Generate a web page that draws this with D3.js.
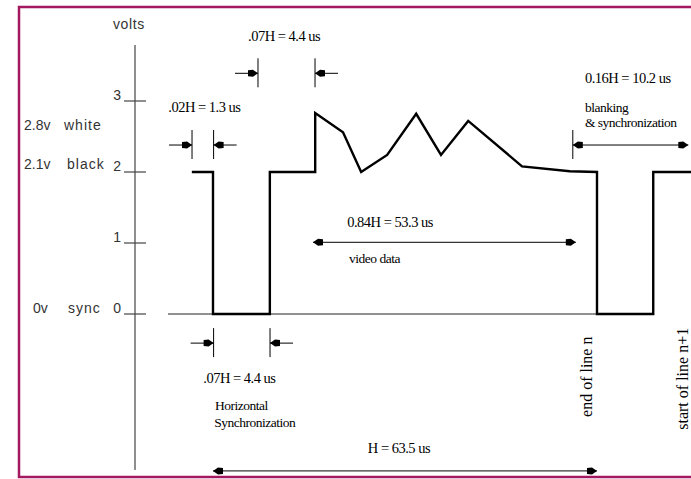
<!DOCTYPE html>
<html>
<head>
<meta charset="utf-8">
<script src="https://cdn.jsdelivr.net/npm/d3@7"></script>
<style>
  body { margin: 0; background: #fff; }
  .sans { font-family: "Liberation Sans", Arial, sans-serif; font-size: 14px; fill: #333; }
  .serif { font-family: "Liberation Serif", "Times New Roman", serif; fill: #000; }
</style>
</head>
<body>
<script>
// waveform of one video line: time (diagram units, not to scale) and volts
var waveT = [-3.5, 0, 0, 9.4, 9.4, 16.9, 16.9, 21.5, 24.5, 28.8, 33.6, 37.7, 42.2, 51.1, 59.0, 63.5, 63.5, 72.8, 72.8, 80];
var waveV = [2.0, 2.0, 0, 0, 2.0, 2.0, 2.83, 2.56, 2.0, 2.24, 2.82, 2.24, 2.72, 2.08, 2.01, 2.0, 0, 0, 2.0, 2.0];

// volt axis
var voltTicks = [0, 1, 2, 3];
var levelNums = ['2.8v', '2.1v', '0v'];
var levelNames = ['white', 'black', 'sync'];
var levelVolts = [2.8, 2.1, 0];

// dimension marks: [t0, t1, level]
var dimOutside = [[-3.47, 0.1, 2.38], [7.44, 16.87, 3.39], [0.1, 9.43, -0.41]];
var dimSpan = [[16.54, 60.0, 1.01], [0, 63.5, -2.21]];
var blankDim = [59.5, 78.6, 2.38];

// labels: text, t, volts
var noteText = ['.07H = 4.4 us', '.02H = 1.3 us', '0.84H = 53.3 us', 'video data', '0.16H = 10.2 us',
  'blanking', '& synchronization', '.07H = 4.4 us', 'Horizontal', 'Synchronization', 'H = 63.5 us'];
var noteT = [5.8, -7.4, 22.2, 22.5, 61.5, 61.5, 61.5, -1.6, 0.35, 0.2, 25.6];
var noteV = [3.85, 2.85, 1.23, 0.72, 3.25, 2.85, 2.63, -0.97, -1.35, -1.59, -1.96];
var noteSize = [14.5, 14.5, 14.5, 13.5, 14.5, 13.5, 13.5, 14.5, 13.5, 13.5, 14.5];

var lineNotes = ['end of line n', 'start of line n+1'];
var lineNoteT = [62.7, 78.6];
var lineNoteV = [-1.45, -1.63];

var width = 691, height = 479;

var svg = d3.select('body').append('svg')
  .attr('width', width)
  .attr('height', height);

var x = d3.scaleLinear().domain([0, 63.5]).range([213, 597]);
var y = d3.scaleLinear().domain([0, 3]).range([314, 101]);

// frame
svg.append('rect')
  .attr('x', 19).attr('y', 7)
  .attr('width', 700).attr('height', 470)
  .attr('fill', 'none')
  .attr('stroke', '#a3185e')
  .attr('stroke-width', 2.5);

// axis line + ticks
svg.append('line')
  .attr('x1', 135).attr('x2', 135)
  .attr('y1', 45).attr('y2', 470)
  .attr('stroke', '#444').attr('stroke-width', 1.2);

var ticks = svg.selectAll('.tick').data(voltTicks).enter().append('g')
  .attr('transform', function (d) { return 'translate(0,' + y(d) + ')'; });
ticks.append('line')
  .attr('x1', 124).attr('x2', 146)
  .attr('stroke', '#444').attr('stroke-width', 1.2);
ticks.append('text')
  .attr('class', 'sans')
  .attr('x', 121).attr('y', -1)
  .attr('text-anchor', 'end')
  .text(function (d) { return d; });

svg.append('text').attr('class', 'sans')
  .attr('x', 113).attr('y', 29)
  .style('letter-spacing', '0.6px')
  .text('volts');

// level names, nudged to sit beside the tick labels
var levelDy = [15, 4, -1];
var levelX = [24, 24, 33], nameX = [64, 67, 68];
svg.selectAll('.lnum').data(levelNums).enter().append('text')
  .attr('class', 'sans')
  .attr('x', function (d, i) { return levelX[i]; })
  .attr('y', function (d, i) { return y(levelVolts[i]) + levelDy[i]; })
  .text(function (d) { return d; });
svg.selectAll('.lname').data(levelNames).enter().append('text')
  .attr('class', 'sans')
  .style('letter-spacing', '1px')
  .attr('x', function (d, i) { return nameX[i]; })
  .attr('y', function (d, i) { return y(levelVolts[i]) + levelDy[i]; })
  .text(function (d) { return d; });

// zero line
svg.append('line')
  .attr('x1', 168).attr('x2', x(63.5))
  .attr('y1', y(0)).attr('y2', y(0))
  .attr('stroke', '#222').attr('stroke-width', 1);

// waveform
var line = d3.line()
  .x(function (d) { return x(d[0]); })
  .y(function (d) { return y(d[1]); });

svg.append('path')
  .datum(d3.zip(waveT, waveV))
  .attr('d', line)
  .attr('fill', 'none')
  .attr('stroke', '#000')
  .attr('stroke-width', 2.4)
  .attr('stroke-linejoin', 'miter');

// arrow helpers
function head(px, py, dir) {
  // dir = 1 points right, -1 points left
  svg.append('path')
    .attr('d', 'M' + px + ',' + py +
      'L' + (px - dir * 5) + ',' + (py - 3.5) +
      'L' + (px - dir * 10) + ',' + (py - 3) +
      'L' + (px - dir * 10) + ',' + (py + 3) +
      'L' + (px - dir * 5) + ',' + (py + 3.5) + 'Z')
    .attr('fill', '#000');
}
function hline(x1, x2, yy) {
  svg.append('line')
    .attr('x1', x1).attr('x2', x2)
    .attr('y1', yy).attr('y2', yy)
    .attr('stroke', '#000').attr('stroke-width', 1);
}
function vtick(xx, yy) {
  svg.append('line')
    .attr('x1', xx).attr('x2', xx)
    .attr('y1', yy - 15).attr('y2', yy + 14)
    .attr('stroke', '#000').attr('stroke-width', 1);
}

dimOutside.forEach(function (d) {
  var a = x(d[0]), b = x(d[1]), yy = y(d[2]);
  vtick(a, yy); vtick(b, yy);
  hline(a - 23, a, yy); head(a, yy, 1);
  hline(b, b + 23, yy); head(b, yy, -1);
});

dimSpan.forEach(function (d) {
  var a = x(d[0]), b = x(d[1]), yy = y(d[2]);
  hline(a, b, yy);
  head(a, yy, -1); head(b, yy, 1);
});

(function () {
  var a = x(blankDim[0]), b = x(blankDim[1]), yy = y(blankDim[2]);
  vtick(a, yy);
  hline(a, b, yy);
  head(a, yy, -1); head(b, yy, 1);
})();

// labels
svg.selectAll('.note').data(noteText).enter().append('text')
  .attr('class', 'serif')
  .attr('x', function (d, i) { return x(noteT[i]); })
  .attr('y', function (d, i) { return y(noteV[i]); })
  .style('font-size', function (d, i) { return noteSize[i] + 'px'; })
  .style('letter-spacing', '-0.5px')
  .text(function (d) { return d; });

svg.selectAll('.vnote').data(lineNotes).enter().append('text')
  .attr('class', 'serif')
  .style('font-size', '16px')
  .attr('transform', function (d, i) {
    return 'translate(' + x(lineNoteT[i]) + ',' + y(lineNoteV[i]) + ') rotate(-90)';
  })
  .text(function (d) { return d; });
</script>
</body>
</html>
